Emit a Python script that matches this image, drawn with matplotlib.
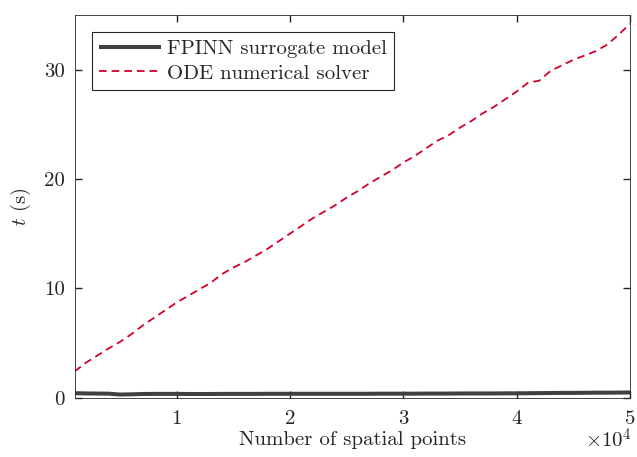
import matplotlib
matplotlib.use("Agg")
import matplotlib.pyplot as plt
from matplotlib.ticker import FixedLocator, FuncFormatter

plt.rcParams['font.family'] = ['cmr10', 'DejaVu Serif']
plt.rcParams['mathtext.fontset'] = 'cm'
plt.rcParams['axes.unicode_minus'] = False
plt.rcParams['axes.formatter.use_mathtext'] = True
plt.rcParams['lines.scale_dashes'] = False

# ---- data ----
n_points = list(range(1000, 50001, 1000))
ode_time = [2.4, 3.2, 3.85, 4.5, 5.1, 5.8, 6.6, 7.3, 8.0, 8.7,
            9.3, 9.9, 10.5, 11.3, 11.9, 12.4, 13.0, 13.6, 14.3, 15.0,
            15.7, 16.4, 17.0, 17.6, 18.3, 18.9, 19.6, 20.2, 20.8, 21.5,
            22.1, 22.8, 23.5, 24.0, 24.7, 25.3, 26.0, 26.6, 27.3, 28.0,
            28.8, 29.0, 29.9, 30.4, 30.9, 31.3, 31.7, 32.3, 33.2, 34.2]
fpinn_time = [0.40, 0.38, 0.37, 0.36, 0.28, 0.30, 0.33, 0.34, 0.34, 0.34,
              0.33, 0.33, 0.33, 0.34, 0.34, 0.34, 0.34, 0.35, 0.35, 0.35,
              0.35, 0.35, 0.35, 0.35, 0.35, 0.35, 0.35, 0.36, 0.36, 0.36,
              0.36, 0.37, 0.37, 0.37, 0.38, 0.38, 0.38, 0.38, 0.39, 0.39,
              0.40, 0.41, 0.42, 0.43, 0.43, 0.44, 0.45, 0.45, 0.46, 0.47]
x_ticks = [10000, 20000, 30000, 40000, 50000]
y_ticks = [0, 10, 20, 30]
series_labels = ["FPINN surrogate model", "ODE numerical solver"]
x_label = "Number of spatial points"
y_label = r"$t$ (s)"
x_scale_label = r"$\times10^{4}$"

fig = plt.figure(figsize=(6.37, 4.57), dpi=100)
ax = fig.add_axes([74.7/637, (457-397.6)/457, (630-74.7)/637, (397.6-15)/457])

ax.plot(n_points, fpinn_time, color='#404040', lw=2.9, label=series_labels[0],
        solid_capstyle='butt')
ax.plot(n_points, ode_time, color='#D4002C', lw=1.3, linestyle=(0, (5.5, 3.6)),
        label=series_labels[1])

ax.set_xlim(1000, 50000)
ax.set_ylim(0, 35)
ax.xaxis.set_major_locator(FixedLocator(x_ticks))
ax.yaxis.set_major_locator(FixedLocator(y_ticks))
ax.xaxis.set_major_formatter(FuncFormatter(lambda v, p: f"{v/10000:g}"))
ax.yaxis.set_major_formatter(FuncFormatter(lambda v, p: f"{v:g}"))

for s in ax.spines.values():
    s.set_color('#262626')
    s.set_linewidth(0.6)
ax.tick_params(direction='in', length=5, width=1.0, color='#262626',
               top=True, right=True, labelsize=15, labelcolor='#262626')
ax.tick_params(axis='x', pad=9)
ax.tick_params(axis='y', pad=7)

ax.set_xlabel(x_label, fontsize=15, color='#262626', labelpad=2)
ax.set_ylabel(y_label, fontsize=15, color='#262626', labelpad=8)

fig.text(632/637, 1 - 448/457, x_scale_label, ha='right', va='baseline',
         fontsize=15, color='#262626')

leg = ax.legend(loc='upper left', bbox_to_anchor=(0.0, 1.0), fontsize=15,
                frameon=True, fancybox=False, framealpha=1, edgecolor='#262626',
                handlelength=2.97, handletextpad=0.3, borderaxespad=0.82,
                labelspacing=0.3, borderpad=0.35)
leg.get_frame().set_linewidth(0.8)
for t in leg.get_texts():
    t.set_color('#262626')

fig.savefig("out.png", dpi=100)
